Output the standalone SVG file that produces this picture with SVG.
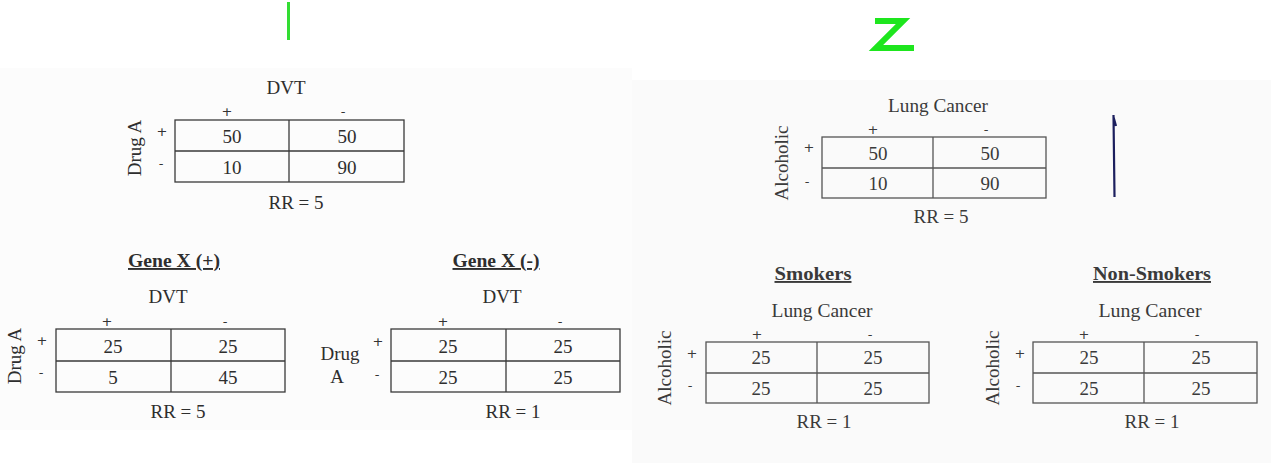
<svg xmlns="http://www.w3.org/2000/svg" width="1271" height="463" viewBox="0 0 1271 463">
<style>
text{font-family:"Liberation Serif","DejaVu Serif",serif;fill:#2e2e2e;font-size:19px;text-anchor:middle}
.s{font-family:"DejaVu Sans","Liberation Sans",sans-serif;font-size:13px;fill:#333}
.t{font-weight:bold;text-decoration:underline}
.grid{fill:none;stroke:#3a3a3a;stroke-width:1.3}
.gr{fill:none;stroke:#555;stroke-width:1.3}
.r text{fill:#3a3a3a}
</style>
<rect width="1271" height="463" fill="#ffffff"/>
<rect x="0" y="68" width="632" height="362" fill="#fcfcfc"/>
<rect x="632" y="80" width="639" height="383" fill="#fafafa"/>
<g id="marks">
<line x1="288.5" y1="2" x2="288.5" y2="40" stroke="#33dd33" stroke-width="3"/>
<polyline points="875,21 903,21 876,48 914,48" fill="none" stroke="#1ee61e" stroke-width="6" stroke-linejoin="miter"/>
<path d="M1113.5,115 L1114.5,197 M1113.5,117 L1116,126" fill="none" stroke="#1c1f5e" stroke-width="2.2"/>
</g>
<g id="table-dvt">
<text x="286" y="94">DVT</text>
<text class="s" x="227" y="116">+</text><text class="s" x="343" y="116">-</text>
<text class="s" x="162" y="136">+</text><text class="s" x="161" y="168">-</text>
<text transform="translate(141,148) rotate(-90)">Drug A</text>
<rect class="grid" x="175" y="120" width="229" height="62"/>
<line class="grid" x1="175" y1="151" x2="404" y2="151"/><line class="grid" x1="289" y1="120" x2="289" y2="182"/>
<text x="232" y="143">50</text><text x="347" y="143">50</text>
<text x="232" y="174">10</text><text x="347" y="174">90</text>
<text x="296" y="209">RR = 5</text>
</g>
<g id="table-genex-pos">
<text class="t" x="174" y="267" textLength="92" lengthAdjust="spacingAndGlyphs">Gene X (+)</text>
<text x="168" y="303">DVT</text>
<text class="s" x="107" y="326">+</text><text class="s" x="225" y="326">-</text>
<text class="s" x="42" y="345">+</text><text class="s" x="41" y="377">-</text>
<text transform="translate(21,356) rotate(-90)">Drug A</text>
<rect class="grid" x="56" y="329" width="229" height="63"/>
<line class="grid" x1="56" y1="361" x2="285" y2="361"/><line class="grid" x1="171" y1="329" x2="171" y2="392"/>
<text x="113" y="353">25</text><text x="228" y="353">25</text>
<text x="113" y="384">5</text><text x="228" y="384">45</text>
<text x="178" y="418">RR = 5</text>
</g>
<g id="table-genex-neg">
<text class="t" x="496" y="267" textLength="87" lengthAdjust="spacingAndGlyphs">Gene X (-)</text>
<text x="502" y="303">DVT</text>
<text class="s" x="443" y="326">+</text><text class="s" x="560" y="326">-</text>
<text class="s" x="378" y="346">+</text><text class="s" x="377" y="379">-</text>
<text x="340" y="360">Drug</text><text x="337" y="383">A</text>
<rect class="grid" x="391" y="329" width="229" height="63"/>
<line class="grid" x1="391" y1="361" x2="620" y2="361"/><line class="grid" x1="506" y1="329" x2="506" y2="392"/>
<text x="448" y="353">25</text><text x="563" y="353">25</text>
<text x="448" y="384">25</text><text x="563" y="384">25</text>
<text x="513" y="418">RR = 1</text>
</g>
<g id="table-lung" class="r">
<text x="938" y="112" textLength="100" lengthAdjust="spacingAndGlyphs">Lung Cancer</text>
<text class="s" x="873" y="134">+</text><text class="s" x="986" y="134">-</text>
<text class="s" x="809" y="152">+</text><text class="s" x="807" y="186">-</text>
<text transform="translate(788,163) rotate(-90)">Alcoholic</text>
<rect class="gr" x="822" y="137" width="224" height="61"/>
<line class="gr" x1="822" y1="168" x2="1046" y2="168"/><line class="gr" x1="933" y1="137" x2="933" y2="198"/>
<text x="878" y="160">50</text><text x="990" y="160">50</text>
<text x="878" y="190">10</text><text x="990" y="190">90</text>
<text x="941" y="223">RR = 5</text>
</g>
<g id="table-smokers" class="r">
<text class="t" x="813" y="280" textLength="77" lengthAdjust="spacingAndGlyphs">Smokers</text>
<text x="822" y="317" textLength="101" lengthAdjust="spacingAndGlyphs">Lung Cancer</text>
<text class="s" x="757" y="339">+</text><text class="s" x="870" y="339">-</text>
<text class="s" x="692" y="358">+</text><text class="s" x="690" y="390">-</text>
<text transform="translate(671,368) rotate(-90)">Alcoholic</text>
<rect class="gr" x="706" y="342" width="223" height="61"/>
<line class="gr" x1="706" y1="373" x2="929" y2="373"/><line class="gr" x1="817" y1="342" x2="817" y2="403"/>
<text x="761" y="364">25</text><text x="873" y="364">25</text>
<text x="761" y="395">25</text><text x="873" y="395">25</text>
<text x="824" y="428">RR = 1</text>
</g>
<g id="table-nonsmokers" class="r">
<text class="t" x="1152" y="280" textLength="118" lengthAdjust="spacingAndGlyphs">Non-Smokers</text>
<text x="1150" y="317" textLength="103" lengthAdjust="spacingAndGlyphs">Lung Cancer</text>
<text class="s" x="1084" y="339">+</text><text class="s" x="1197" y="339">-</text>
<text class="s" x="1020" y="358">+</text><text class="s" x="1018" y="390">-</text>
<text transform="translate(999,368) rotate(-90)">Alcoholic</text>
<rect class="gr" x="1033" y="342" width="224" height="61"/>
<line class="gr" x1="1033" y1="373" x2="1257" y2="373"/><line class="gr" x1="1144" y1="342" x2="1144" y2="403"/>
<text x="1089" y="364">25</text><text x="1201" y="364">25</text>
<text x="1089" y="395">25</text><text x="1201" y="395">25</text>
<text x="1152" y="428">RR = 1</text>
</g>
</svg>
